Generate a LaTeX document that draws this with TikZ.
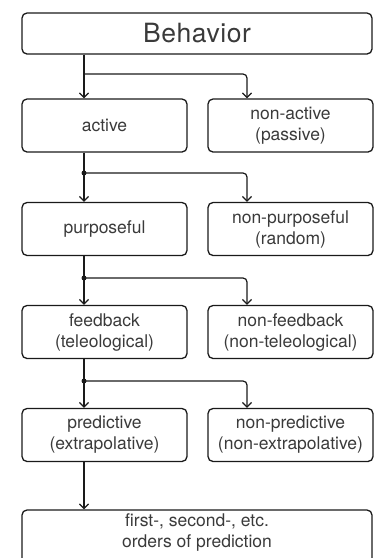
\documentclass[tikz,border=0pt]{standalone}
\usepackage{fontspec}
\setmainfont{TeX Gyre Heros}
\usetikzlibrary{arrows.meta}
\definecolor{ink}{HTML}{1A1A1A}
\definecolor{txt}{HTML}{3A3A3A}
\begin{document}
\begin{tikzpicture}[x=1pt,y=-1pt,
  box/.style={draw=ink, line width=1.3pt, rounded corners=5pt, align=center,
    minimum width=165pt, minimum height=53pt, inner sep=0pt,
    text=txt, font=\fontsize{17.5}{21}\selectfont},
  wide/.style={box, minimum width=350pt},
  label/.style={align=center, inner sep=0pt, text=txt, font=\fontsize{17.5}{21}\selectfont},
  conn/.style={draw=ink, line width=1.2pt},
  arr/.style={conn, -{Straight Barb[length=4.5pt,width=9pt,line width=1.3pt]}},
  junction/.style={circle, fill=ink, inner sep=0pt, minimum size=5pt}]
\useasboundingbox (0,0) rectangle (376,558);

% category boxes
\node[wide, minimum height=41pt, font=\fontsize{26.5}{30}\selectfont\addfontfeature{LetterSpace=2}] (beh) at (197,33.5) {Behavior};
\node[box] (act)  at (104.5,125.5) {active};
\node[box] (nact) at (290.5,125.5) {non-active\\(passive)};
\node[box] (pur)  at (104.5,229) {purposeful};
\node[box] (npur) at (290.5,229) {non-purposeful\\(random)};
\node[box] (fb)   at (104.5,332) {feedback\\(teleological)};
\node[box] (nfb)  at (290.5,332) {non-feedback\\(non-teleological)};
\node[box] (pre)  at (104.5,435) {predictive\\(extrapolative)};
\node[box] (npre) at (290.5,435) {non-predictive\\(non-extrapolative)};
% last box runs past the lower edge of the page
\node[wide, minimum height=60pt] (ord) at (197,540) {};
\node[label] (ordtext) at (197,532) {first-, second-, etc.\\orders of prediction};

% branch points on the trunk and the right-hand drops
\coordinate (j1) at (84,74);
\coordinate (j2) at (84,173);
\coordinate (j3) at (84,278);
\coordinate (j4) at (84,381);
\coordinate (r1) at (247,74);
\coordinate (r2) at (247,173);
\coordinate (r3) at (247,278);
\coordinate (r4) at (247,381);

% trunk
\draw[arr] (beh.south -| j1) -- (j1 |- act.north);
\draw[arr] (act.south -| j2) -- (j2 |- pur.north);
\draw[arr] (pur.south -| j3) -- (j3 |- fb.north);
\draw[arr] (fb.south -| j4) -- (j4 |- pre.north);
\draw[arr] (pre.south -| j4) -- (j4 |- ord.north);

% side branches
\draw[arr, rounded corners=4pt] (j1) -- (r1) -- (r1 |- nact.north);
\draw[arr, rounded corners=4pt] (j2) -- (r2) -- (r2 |- npur.north);
\draw[arr, rounded corners=4pt] (j3) -- (r3) -- (r3 |- nfb.north);
\draw[arr, rounded corners=4pt] (j4) -- (r4) -- (r4 |- npre.north);

\node[junction] at (j2) {};
\node[junction] at (j3) {};
\node[junction] at (j4) {};
\end{tikzpicture}
\end{document}
